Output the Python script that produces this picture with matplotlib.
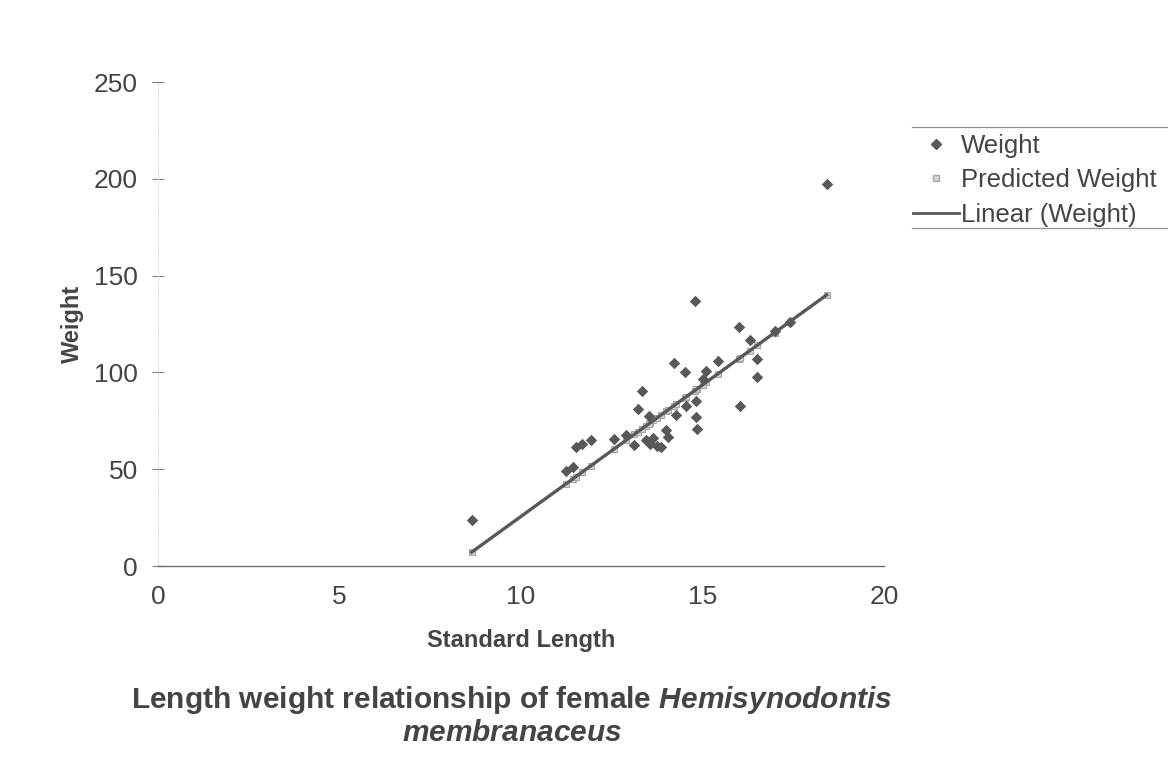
import matplotlib
matplotlib.use("Agg")
import matplotlib.pyplot as plt
from matplotlib.lines import Line2D
import numpy as np

plt.rcParams['font.family'] = ['Liberation Sans', 'DejaVu Sans']
plt.rcParams['mathtext.fontset'] = 'custom'
plt.rcParams['mathtext.it'] = 'Liberation Sans:italic:bold'
plt.rcParams['mathtext.rm'] = 'Liberation Sans:bold'

# Standard length (x) and observed weight
length = [8.64, 11.23, 11.42, 11.51, 11.69, 11.92, 12.57, 12.89, 13.12, 13.22,
          13.33, 13.45, 13.55, 13.65, 13.75, 13.52, 13.86, 14.00, 14.04, 14.21,
          14.52, 14.78, 14.83, 14.84, 14.83, 15.10, 15.42, 15.01, 16.00, 16.30,
          16.50, 16.50, 16.02, 18.42, 14.27, 14.55, 16.99, 17.40]
weight = [23.7, 49.1, 51.2, 61.5, 62.9, 65.3, 65.8, 67.5, 62.4, 81.1,
          90.2, 65.0, 63.0, 66.0, 62.0, 77.3, 61.5, 70.1, 66.6, 104.8,
          100.2, 137.1, 77.0, 70.8, 85.0, 100.7, 105.8, 96.8, 123.4, 116.9,
          106.9, 97.6, 82.5, 197.3, 77.8, 82.5, 121.5, 126.0]
predicted = [7.1, 42.3, 44.9, 46.1, 48.6, 51.7, 60.5, 64.9, 68.0, 69.4,
             70.9, 72.5, 73.8, 75.2, 76.6, 73.4, 78.1, 80.0, 80.5, 82.8,
             87.0, 90.6, 91.2, 91.4, 91.2, 94.9, 99.3, 93.7, 107.1, 111.2,
             113.9, 113.9, 107.4, 140.0, 83.6, 87.4, 120.6, 126.1]

x_ticks = [0, 5, 10, 15, 20]
y_ticks = [0, 50, 100, 150, 200, 250]

W, H = 1168, 761
fig = plt.figure(figsize=(W / 100, H / 100), dpi=100)
ax = fig.add_axes([158 / W, 1 - 566 / H, (884 - 158) / W, (566 - 82) / H])

dark = '#585858'
ax.scatter(length, predicted, marker='s', s=22, facecolor='#d4d4d4',
           edgecolor='#a8a8a8', linewidth=0.8, zorder=2)
# Linear trend of Weight
coef = np.polyfit(length, predicted, 1)
xs = np.array([min(length), max(length)])
ax.plot(xs, np.polyval(coef, xs), color=dark, linewidth=2.4, zorder=3)
ax.scatter(length, weight, marker='D', s=34, color=dark, linewidth=0, zorder=4)

ax.set_xlim(0, 20)
ax.set_ylim(0, 250)
ax.set_xticks(x_ticks)
ax.set_yticks(y_ticks)
for s in ['top', 'right']:
    ax.spines[s].set_visible(False)
ax.spines['left'].set_color('#dddddd')
ax.spines['left'].set_linewidth(0.8)
ax.spines['left'].set_linestyle((0, (2, 2)))
ax.spines['bottom'].set_color('#707070')
ax.spines['bottom'].set_linewidth(1.0)
ax.tick_params(axis='y', direction='inout', length=9, width=0.8, color='#808080',
               labelsize=19, labelcolor='#444444', pad=10)
ax.tick_params(axis='x', length=0, labelsize=19, labelcolor='#444444', pad=14)

ax.set_xlabel('Standard Length', fontsize=17, fontweight='bold', color='#444444', labelpad=14)
ax.set_ylabel('Weight', fontsize=17, fontweight='bold', color='#444444', labelpad=7)

# Legend
handles = [
    Line2D([], [], marker='D', linestyle='none', markersize=5, color=dark),
    Line2D([], [], marker='s', linestyle='none', markersize=5, markerfacecolor='#d4d4d4',
           markeredgecolor='#a8a8a8'),
    Line2D([], [], color=dark, linewidth=2),
]
fig.legend(handles, ['Weight', 'Predicted Weight', 'Linear (Weight)'],
           loc='upper left', bbox_to_anchor=(908 / W, 1 - 129 / H),
           frameon=False, fontsize=18.5, labelcolor='#444444', borderaxespad=0,
           handlelength=1.8, handletextpad=0.05, labelspacing=0.4, borderpad=0.2)
for yy in [127, 228]:
    fig.add_artist(Line2D([912 / W, 1.0], [1 - yy / H, 1 - yy / H],
                          color='#909090', linewidth=0.9))

# Title (below chart)
fig.text(512 / W, 1 - 700 / H, 'Length weight relationship of female $\\mathit{Hemisynodontis}$',
         ha='center', va='center', fontsize=21.5, fontweight='bold', color='#444444')
fig.text(512 / W, 1 - 733 / H, '$\\mathit{membranaceus}$',
         ha='center', va='center', fontsize=21.5, fontweight='bold', color='#444444')

fig.savefig('out.png', dpi=100)
